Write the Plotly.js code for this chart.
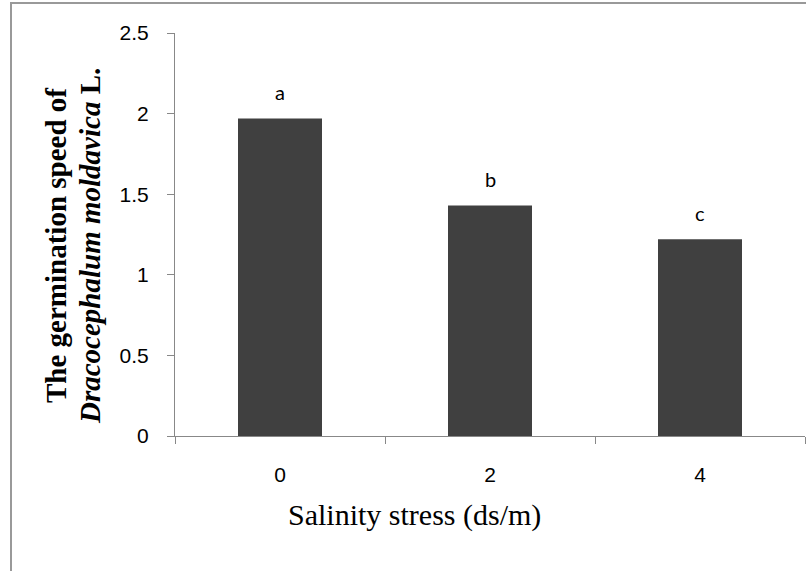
<!DOCTYPE html>
<html>
<head>
<meta charset="utf-8">
<script src="https://cdn.plot.ly/plotly-3.0.1.min.js"></script>
<style>
html,body{margin:0;padding:0;background:#fff;}
#chart{width:806px;height:571px;}
</style>
</head>
<body>
<div id="chart"></div>
<script>
const categories = ["0", "2", "4"];
const values = [1.97, 1.43, 1.22];
const letters = ["a", "b", "c"];
const yTicks = [0, 0.5, 1, 1.5, 2, 2.5];
const yTickText = ["0", "0.5", "1", "1.5", "2", "2.5"];
const yTitleLines = ["<b>The germination speed of</b>", "<b><i>Dracocephalum moldavica</i> L.</b>"];
const xTitle = "Salinity stress (ds/m)";

const W = 806, H = 571;
const L = 175, R = 1, T = 33, B = 135;
const pw = W - L - R, ph = H - T - B;
const px = v => (v - L) / pw;
const py = v => (H - B - v) / ph;

const trace = {
  type: 'bar',
  x: categories,
  y: values,
  width: 0.4,
  marker: {color: '#404040', line: {width: 0}},
  hoverinfo: 'skip'
};

const serif = '"Liberation Serif", "Times New Roman", serif';
const annotations = categories.map((c, i) => ({
  x: i, y: values[i], xref: 'x', yref: 'y',
  text: letters[i], showarrow: false,
  yanchor: 'bottom', yshift: 12,
  font: {family: 'Lato, "Open Sans", sans-serif', size: 20, color: '#000'}
}));
const yTitleX = [56, 90];
yTitleLines.forEach((t, i) => annotations.push({
  x: px(yTitleX[i]), y: py(246), xref: 'paper', yref: 'paper',
  text: t, showarrow: false, textangle: -90,
  xanchor: 'center', yanchor: 'middle',
  font: {family: serif, size: 29, color: '#000'}
}));
annotations.push({
  x: px(414), y: py(515), xref: 'paper', yref: 'paper',
  text: xTitle, showarrow: false,
  xanchor: 'center', yanchor: 'middle',
  font: {family: serif, size: 30, color: '#000'}
});

const layout = {
  width: W, height: H,
  margin: {l: L, r: R, t: T, b: B, pad: 0},
  paper_bgcolor: '#fff', plot_bgcolor: '#fff',
  showlegend: false,
  bargap: 0.6,
  xaxis: {
    type: 'category',
    range: [-0.5, 2.5],
    tickson: 'boundaries',
    ticks: 'outside', ticklen: 7, tickcolor: '#888', tickwidth: 1,
    showline: true, linecolor: '#888', linewidth: 1,
    showgrid: false, zeroline: false,
    ticklabelstandoff: 20,
    tickfont: {family: '"Liberation Sans", Arial, sans-serif', size: 21, color: '#000'}
  },
  yaxis: {
    range: [0, 2.5],
    tickvals: yTicks, ticktext: yTickText,
    ticks: 'outside', ticklen: 7, tickcolor: '#888', tickwidth: 1,
    showline: true, linecolor: '#888', linewidth: 1,
    showgrid: false, zeroline: false,
    ticklabelstandoff: 14,
    tickfont: {family: '"Liberation Sans", Arial, sans-serif', size: 21, color: '#000'}
  },
  annotations: annotations,
  shapes: [{
    type: 'rect', xref: 'paper', yref: 'paper', layer: 'above',
    x0: px(11), x1: px(830), y0: py(600), y1: py(3),
    line: {color: '#999', width: 2}, fillcolor: 'rgba(0,0,0,0)'
  }]
};

Plotly.newPlot('chart', [trace], layout, {displayModeBar: false, staticPlot: true});
</script>
</body>
</html>
